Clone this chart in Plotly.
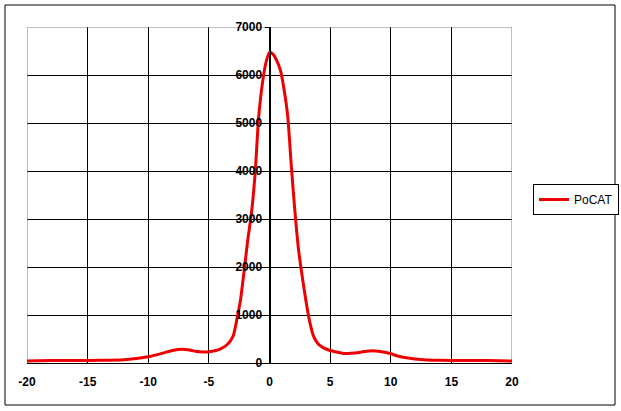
import plotly.graph_objects as go

# Data
x_vals = [-20, -18, -16, -14, -12, -11, -10, -9, -8, -7.2, -6.5, -6, -5.5, -5, -4.5, -4,
          -3.5, -3.0, -2.7, -2.4, -2.1, -1.8, -1.5, -1.2, -0.9, -0.6, -0.3, 0, 0.3, 0.6,
          0.9, 1.2, 1.5, 1.8, 2.1, 2.4, 2.7, 3.0, 3.3, 3.6, 4.0, 4.5, 5.0, 5.5, 6.0, 6.5,
          7.0, 7.5, 8.0, 8.5, 9.0, 9.5, 10.0, 10.5, 11, 12, 13, 14, 16, 18, 20]
pocat = [40, 50, 50, 55, 70, 95, 130, 190, 260, 285, 265, 240, 230, 235, 255, 300,
         380, 560, 900, 1300, 1900, 2550, 3100, 3900, 5100, 5800, 6250, 6470, 6430, 6300,
         6100, 5700, 5150, 4100, 3150, 2350, 1800, 1300, 880, 580, 400, 310, 260, 230, 205, 200,
         210, 225, 245, 255, 245, 225, 195, 150, 120, 85, 65, 55, 50, 50, 40]
series_name = "PoCAT"
x_ticks = [-20, -15, -10, -5, 0, 5, 10, 15, 20]
y_ticks = [0, 1000, 2000, 3000, 4000, 5000, 6000, 7000]

W, H = 621, 411
L, R, T, B = 27, 109, 27, 48
pw, ph = W - L - R, H - T - B

def px_x(p):
    return (p - L) / pw

def px_y(p):
    return (H - B - p) / ph

fig = go.Figure()
fig.add_trace(go.Scatter(
    x=x_vals, y=pocat, mode="lines", name=series_name,
    line=dict(color="#EE0000", width=3, shape="spline", smoothing=0.6),
    showlegend=True,
))

fnt = "Liberation Sans, Arial, sans-serif"
fig.update_layout(
    width=W, height=H,
    margin=dict(l=L, r=R, t=T, b=B, autoexpand=False),
    paper_bgcolor="white", plot_bgcolor="white",
    font=dict(family=fnt, size=12, color="black"),
    showlegend=True,
    legend=dict(
        x=px_x(533), y=px_y(184), xanchor="left", yanchor="top",
        bordercolor="black", borderwidth=1, bgcolor="white",
        font=dict(family=fnt, size=12, color="black"),
        itemwidth=30, tracegroupgap=0,
    ),
    xaxis=dict(
        range=[-20, 20], tickvals=x_ticks, ticktext=[str(v) for v in x_ticks],
        showgrid=True, gridcolor="black", gridwidth=1,
        zeroline=False, showline=True, linecolor="black", linewidth=1,
        ticks="", ticklabelstandoff=8,
        tickfont=dict(family=fnt, size=12, color="black", weight="bold"),
        fixedrange=True,
    ),
    yaxis=dict(
        range=[0, 7000], tickvals=y_ticks, ticktext=[str(v) for v in y_ticks],
        showgrid=True, gridcolor="black", gridwidth=1,
        zeroline=False, showline=True, linecolor="black", linewidth=1,
        anchor="free", position=0.5, side="left",
        ticks="outside", ticklen=5, tickcolor="black", tickwidth=1,
        tickfont=dict(family=fnt, size=12, color="black", weight="bold"),
        fixedrange=True,
    ),
    shapes=[
        # gray plot-area border (left, top, right)
        dict(type="line", xref="x", yref="y", x0=-20, x1=-20, y0=0, y1=7000,
             line=dict(color="#808080", width=1), layer="between"),
        dict(type="line", xref="x", yref="y", x0=20, x1=20, y0=0, y1=7000,
             line=dict(color="#808080", width=1), layer="between"),
        dict(type="line", xref="x", yref="y", x0=-20, x1=20, y0=7000, y1=7000,
             line=dict(color="#808080", width=1), layer="between"),
        # outer chart border
        dict(type="rect", xref="paper", yref="paper",
             x0=px_x(5), x1=px_x(615), y0=px_y(405), y1=px_y(5),
             line=dict(color="black", width=1), fillcolor="rgba(0,0,0,0)", layer="above"),
    ],
)

fig.write_html("out.html", config={"displayModeBar": False},
               post_script="document.body.style.margin='0';document.body.style.padding='0';")
